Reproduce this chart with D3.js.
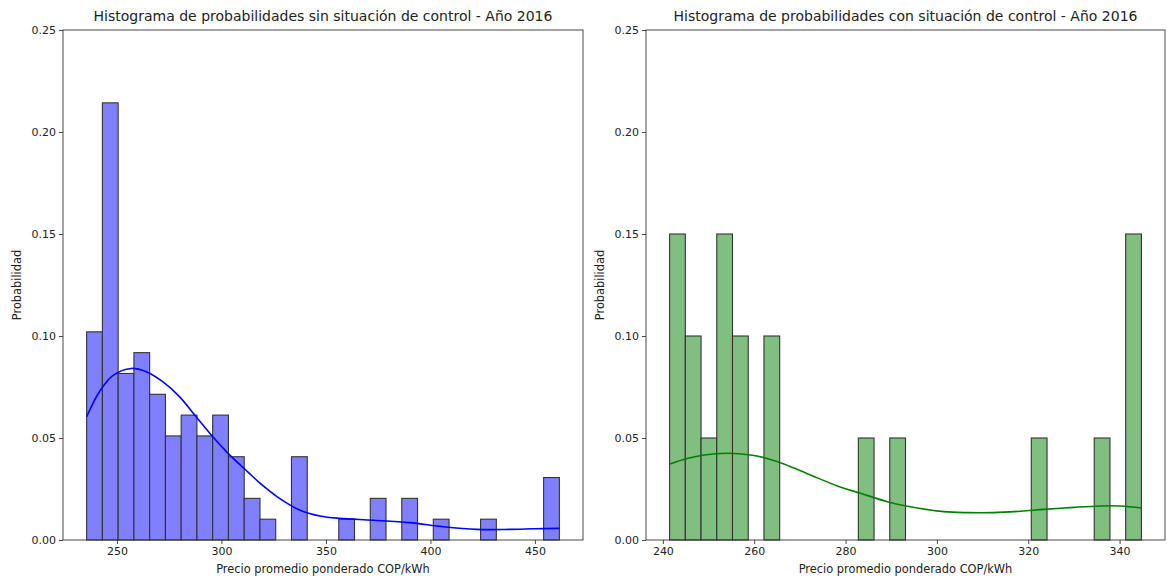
<!DOCTYPE html>
<html>
<head>
<meta charset="utf-8">
<script src="https://cdn.jsdelivr.net/npm/d3@7"></script>
<style>
  html, body { margin: 0; padding: 0; background: #fff; }
  svg { display: block; }
  text { font-family: "DejaVu Sans", sans-serif; fill: #222; }
</style>
</head>
<body>
<svg id="chart" width="1167" height="580"></svg>
<script>
// ---- Panel 1: sin situación de control ----
const leftTitle = "Histograma de probabilidades sin situación de control - Año 2016";
const leftRange = [235.5, 461.7];          // min / max price, 30 equal bins
const leftCounts = [10, 21, 8, 9, 7, 5, 6, 5, 6, 4, 2, 1, 0, 4, 0,
                    0, 1, 0, 2, 0, 2, 0, 1, 0, 0, 1, 0, 0, 0, 3];
const leftXTicks = [250, 300, 350, 400, 450];
const leftKde = [
  [235.5, 0.0604], [241.6, 0.0727], [248, 0.0806], [256.8, 0.0841], [264, 0.0825],
  [271.9, 0.0776], [279.9, 0.0703], [287.9, 0.0604], [295.9, 0.0506], [303.9, 0.0417],
  [312.7, 0.0333], [318.3, 0.0280], [327.8, 0.0204], [337.4, 0.0147], [347, 0.0118],
  [356.6, 0.0106], [372.5, 0.0097], [390.1, 0.0085], [406.1, 0.0065], [422.1, 0.0052],
  [438, 0.0052], [450, 0.0055], [461.7, 0.0057]
];

// ---- Panel 2: con situación de control ----
const rightTitle = "Histograma de probabilidades con situación de control - Año 2016";
const rightRange = [241.47, 344.78];
const rightCounts = [3, 2, 1, 3, 2, 0, 2, 0, 0, 0, 0, 0, 1, 0, 1,
                     0, 0, 0, 0, 0, 0, 0, 0, 1, 0, 0, 0, 1, 0, 3];
const rightXTicks = [240, 260, 280, 300, 320, 340];
const rightKde = [
  [241.5, 0.0373], [245.3, 0.0400], [249, 0.0417], [254.1, 0.0425], [259.2, 0.0417],
  [262.8, 0.0400], [266.5, 0.0373], [272.3, 0.0319], [278.2, 0.0265], [283.3, 0.0229],
  [289.1, 0.0188], [294.2, 0.0163], [301.5, 0.0139], [306.6, 0.0134], [312.4, 0.0134],
  [318.3, 0.0141], [323.4, 0.0150], [329.9, 0.0160], [335.8, 0.0167], [340.2, 0.0167],
  [344.8, 0.0157]
];

const yTicks = [0, 0.05, 0.10, 0.15, 0.20, 0.25];
const yMax = 0.25;
const xLabel = "Precio promedio ponderado COP/kWh";
const yLabel = "Probabilidad";

const svg = d3.select("#chart");

function drawPanel(cfg) {
  const { left, right, top, bottom } = cfg.box;
  const n = cfg.counts.length;
  const total = d3.sum(cfg.counts);
  const step = (cfg.range[1] - cfg.range[0]) / n;
  const bins = cfg.counts.map((c, i) => ({
    x0: cfg.range[0] + i * step,
    x1: cfg.range[0] + (i + 1) * step,
    p: c / total
  }));
  const pad = (cfg.range[1] - cfg.range[0]) * 0.05;

  const x = d3.scaleLinear()
    .domain([cfg.range[0] - pad, cfg.range[1] + pad])
    .range([left, right]);
  const y = d3.scaleLinear().domain([0, yMax]).range([bottom, top]);

  const g = svg.append("g");

  // bars
  g.append("g").selectAll("rect")
    .data(bins.filter(b => b.p > 0))
    .join("rect")
    .attr("x", d => x(d.x0))
    .attr("y", d => y(d.p))
    .attr("width", d => x(d.x1) - x(d.x0))
    .attr("height", d => y(0) - y(d.p))
    .attr("fill", cfg.fill)
    .attr("stroke", "#333")
    .attr("stroke-width", 1.1);

  // density curve
  const line = d3.line()
    .x(d => x(d[0]))
    .y(d => y(d[1]))
    .curve(d3.curveCatmullRom.alpha(0.5));
  g.append("path")
    .datum(cfg.kde)
    .attr("d", line)
    .attr("fill", "none")
    .attr("stroke", cfg.line)
    .attr("stroke-width", 1.6);

  // axes
  const xAxis = d3.axisBottom(x).tickValues(cfg.xTicks)
    .tickFormat(d3.format("d")).tickSizeOuter(0).tickSize(4).tickPadding(3);
  const yAxis = d3.axisLeft(y).tickValues(yTicks)
    .tickFormat(d3.format(".2f")).tickSizeOuter(0).tickSize(4).tickPadding(3);

  const gx = g.append("g").attr("transform", `translate(0,${bottom})`).call(xAxis);
  const gy = g.append("g").attr("transform", `translate(${left},0)`).call(yAxis);
  [gx, gy].forEach(a => {
    a.select(".domain").remove();
    a.selectAll(".tick line").attr("stroke", "#333").attr("stroke-width", 0.9);
    a.selectAll(".tick text").style("font-size", "11px").attr("fill", "#222");
  });

  // frame
  g.append("rect")
    .attr("x", left).attr("y", top)
    .attr("width", right - left).attr("height", bottom - top)
    .attr("fill", "none").attr("stroke", "#333").attr("stroke-width", 0.9);

  // title and labels
  g.append("text")
    .attr("x", (left + right) / 2).attr("y", top - 9)
    .attr("text-anchor", "middle")
    .style("font-size", "14px")
    .text(cfg.title);
  g.append("text")
    .attr("x", (left + right) / 2).attr("y", bottom + 33)
    .attr("text-anchor", "middle")
    .style("font-size", "11.4px")
    .text(xLabel);
  g.append("text")
    .attr("transform", `translate(${left - 42},${(top + bottom) / 2}) rotate(-90)`)
    .attr("text-anchor", "middle")
    .style("font-size", "11.4px")
    .text(yLabel);
}

drawPanel({
  box: { left: 63, right: 583, top: 30, bottom: 540 },
  range: leftRange, counts: leftCounts, kde: leftKde, xTicks: leftXTicks,
  title: leftTitle, fill: "#8080ff", line: "#0000ff"
});
drawPanel({
  box: { left: 646, right: 1165, top: 30, bottom: 540 },
  range: rightRange, counts: rightCounts, kde: rightKde, xTicks: rightXTicks,
  title: rightTitle, fill: "#80bf80", line: "#008000"
});
</script>
</body>
</html>
